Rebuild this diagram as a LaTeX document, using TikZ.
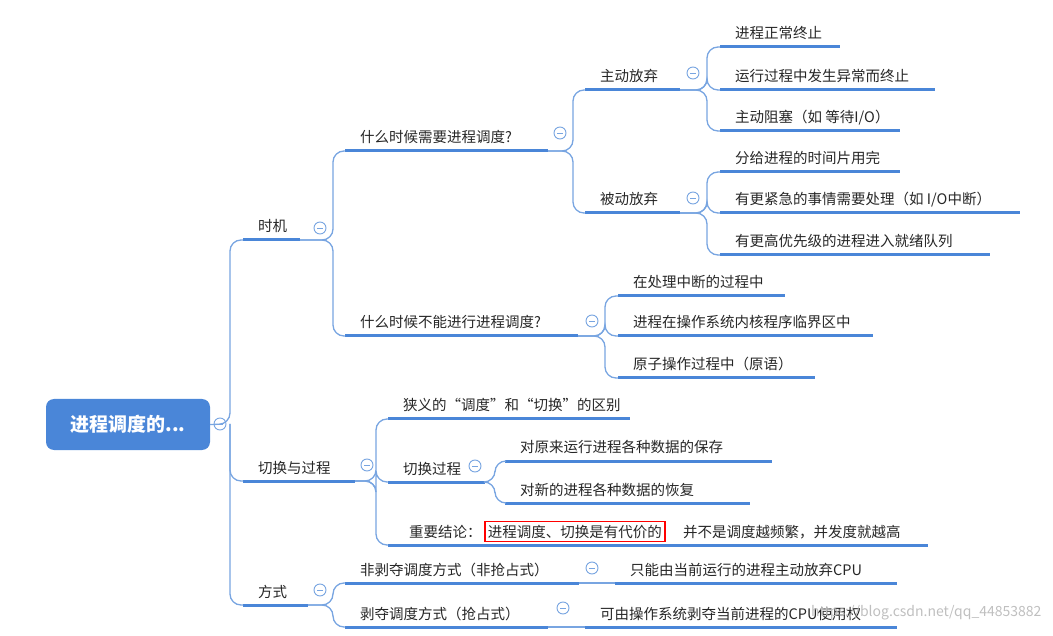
\documentclass[tikz,border=0pt]{standalone}
\usepackage{fontspec}
\setmainfont{Noto Sans CJK SC}
\definecolor{mb}{RGB}{74,134,216}
\definecolor{lb}{RGB}{120,165,225}
\begin{document}
\begin{tikzpicture}[x=1pt,y=-1pt,
  uline/.style={mb,line width=3pt},
  conn/.style={lb,line width=1.3pt,rounded corners=11pt},
  txt/.style={anchor=base west,inner sep=0,font=\fontsize{14.5}{16}\selectfont,text=black!85},
  collapse/.style={circle,draw=lb,line width=0.9pt,fill=white,minimum size=12pt,inner sep=0,
    path picture={\draw[lb,line width=0.9pt] ([xshift=-3pt]path picture bounding box.center) -- ([xshift=3pt]path picture bounding box.center);}}]
\useasboundingbox (0,0) rectangle (1053,636);
\newcommand\tp[5]{\coordinate (#1-s) at (#2,#4);\coordinate (#1-e) at (#3,#4);
  \draw[uline] (#1-s) -- (#1-e);\node[txt] (#1) at (#2+15,#4-8) {#5};}
\newcommand\conn[3]{\draw[conn] (#1) -- ++(#2,0) |- (#3);}
% root
\node[fill=mb,rounded corners=8pt,minimum width=164pt,minimum height=51pt,text=white,font=\fontsize{19}{22}\selectfont\bfseries] (root) at (128,424.5) {进程调度的...};
\node[collapse] (c0) at (220,424) {};
% level 1
\tp{sj}{243}{300}{240}{时机}
\tp{qh}{243}{355}{481}{切换与过程}
\tp{fs}{243}{308}{605}{方式}
\draw[conn] (root.east) -- (230,424) |- (sj-s);
\draw[conn] (230,424) |- (qh-s);
\draw[conn] (230,424) |- (fs-s);
% 时机
\node[collapse] (c1) at (320,228) {};
\tp{xy}{345}{548}{151}{什么时候需要进程调度?}
\tp{bn}{345}{578}{336}{什么时候不能进行进程调度?}
\conn{sj-e}{33}{xy-s}\conn{sj-e}{33}{bn-s}
\node[collapse] (c2) at (560,133) {};
\tp{zd}{585}{680}{90}{主动放弃}
\tp{bd}{585}{680}{213}{被动放弃}
\conn{xy-e}{25}{zd-s}\conn{xy-e}{25}{bd-s}
\node[collapse] (c3) at (693,73) {};
\tp{a1}{720}{840}{47}{进程正常终止}
\tp{a2}{720}{935}{90}{运行过程中发生异常而终止}
\tp{a3}{720}{900}{131}{主动阻塞（如 等待I/O）}
\conn{zd-e}{27}{a1-s}\conn{zd-e}{27}{a2-s}\conn{zd-e}{27}{a3-s}
\node[collapse] (c4) at (693,198) {};
\tp{b1}{720}{900}{172}{分给进程的时间片用完}
\tp{b2}{720}{1020}{213}{有更紧急的事情需要处理（如 I/O中断）}
\tp{b3}{720}{990}{255}{有更高优先级的进程进入就绪队列}
\conn{bd-e}{27}{b1-s}\conn{bd-e}{27}{b2-s}\conn{bd-e}{27}{b3-s}
\node[collapse] (c5) at (592,321) {};
\tp{n1}{618}{785}{296}{在处理中断的过程中}
\tp{n2}{618}{873}{336}{进程在操作系统内核程序临界区中}
\tp{n3}{618}{815}{378}{原子操作过程中（原语）}
\conn{bn-e}{27}{n1-s}\conn{bn-e}{27}{n2-s}\conn{bn-e}{27}{n3-s}
% 切换与过程
\node[collapse] (c6) at (367,465) {};
\tp{xa}{388}{630}{419}{狭义的“调度”和“切换”的区别}
\tp{gc}{388}{485}{482}{切换过程}
\coordinate (zy-s) at (388,545);\coordinate (zy-e) at (928,545);
\draw[uline] (zy-s) -- (zy-e);
\node[txt] (zy1) at (409,537) {重要结论：};
\node[txt,draw=red,line width=1.5pt,inner sep=3pt] (zy2) at (484,537) {进程调度、切换是有代价的};
\node[txt] (zy3) at (683,537) {并不是调度越频繁，并发度就越高};
\conn{qh-e}{21}{xa-s}\conn{qh-e}{21}{gc-s}\conn{qh-e}{21}{zy-s}
\node[collapse] (c7) at (475,466) {};
\tp{g1}{505}{772}{461}{对原来运行进程各种数据的保存}
\tp{g2}{505}{750}{503}{对新的进程各种数据的恢复}
\conn{gc-e}{10}{g1-s}\conn{gc-e}{10}{g2-s}
% 方式
\node[collapse] (c8) at (320,590) {};
\tp{f1}{345}{579}{583}{非剥夺调度方式（非抢占式）}
\tp{f2}{345}{548}{627}{剥夺调度方式（抢占式）}
\conn{fs-e}{25}{f1-s}\conn{fs-e}{25}{f2-s}
\node[collapse] (c9) at (592,568) {};
\tp{h1}{615}{897}{583}{只能由当前运行的进程主动放弃CPU}
\draw[conn] (f1-e) -- (h1-s);
\node[collapse] (c10) at (563,608) {};
\tp{h2}{585}{897}{627}{可由操作系统剥夺当前进程的CPU使用权}
\draw[conn] (f2-e) -- (h2-s);
\node[anchor=east,text=black!25,font=\fontsize{14}{16}\selectfont] (wm) at (1045,613) {https://blog.csdn.net/qq\_44853882};
\end{tikzpicture}
\end{document}
